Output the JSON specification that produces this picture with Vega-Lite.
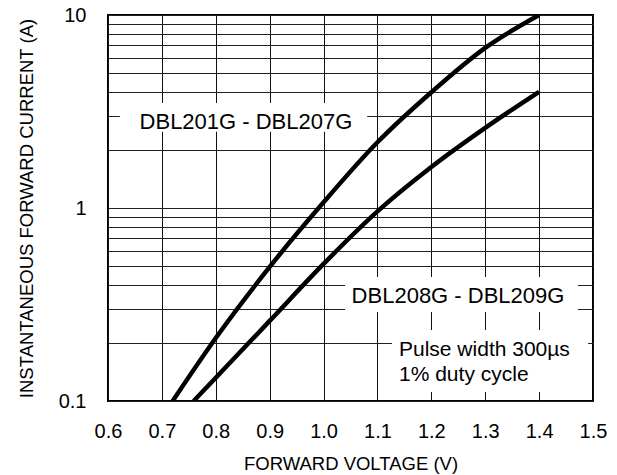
{
  "$schema": "https://vega.github.io/schema/vega-lite/v6.json",
  "width": 485,
  "height": 386,
  "autosize": "none",
  "padding": {"left": 108, "top": 15, "right": 24, "bottom": 74},
  "background": "white",
  "config": {
    "view": {"stroke": "black", "strokeWidth": 2},
    "font": "Liberation Sans",
    "axis": {"labelFont": "Liberation Sans", "titleFont": "Liberation Sans", "labelColor": "black", "titleColor": "black", "titleFontWeight": "normal"}
  },
  "datasets": {
    "curves": [
      {"series": "DBL201G - DBL207G", "v": 0.72, "i": 0.1},
      {"series": "DBL201G - DBL207G", "v": 0.8, "i": 0.212},
      {"series": "DBL201G - DBL207G", "v": 0.9, "i": 0.495},
      {"series": "DBL201G - DBL207G", "v": 1.0, "i": 1.07},
      {"series": "DBL201G - DBL207G", "v": 1.1, "i": 2.19},
      {"series": "DBL201G - DBL207G", "v": 1.2, "i": 3.98},
      {"series": "DBL201G - DBL207G", "v": 1.3, "i": 6.76},
      {"series": "DBL201G - DBL207G", "v": 1.4, "i": 10},
      {"series": "DBL208G - DBL209G", "v": 0.759, "i": 0.1},
      {"series": "DBL208G - DBL209G", "v": 0.8, "i": 0.132},
      {"series": "DBL208G - DBL209G", "v": 0.9, "i": 0.26},
      {"series": "DBL208G - DBL209G", "v": 1.0, "i": 0.513},
      {"series": "DBL208G - DBL209G", "v": 1.1, "i": 0.96},
      {"series": "DBL208G - DBL209G", "v": 1.2, "i": 1.63},
      {"series": "DBL208G - DBL209G", "v": 1.3, "i": 2.6},
      {"series": "DBL208G - DBL209G", "v": 1.4, "i": 4}
    ],
    "boxes": [
      {"x1": 0.622, "x2": 1.081, "y1": 2.48, "y2": 3.5},
      {"x1": 1.04, "x2": 1.472, "y1": 0.289, "y2": 0.439},
      {"x1": 1.127, "x2": 1.491, "y1": 0.1113, "y2": 0.233}
    ],
    "centered": [
      {"v": 0.856, "i": 2.79, "label": "DBL201G - DBL207G"},
      {"v": 1.2495, "i": 0.35, "label": "DBL208G - DBL209G"}
    ],
    "lefttext": [
      {"v": 1.14, "i": 0.184, "label": "Pulse width 300µs"},
      {"v": 1.14, "i": 0.1364, "label": "1% duty cycle"}
    ]
  },
  "layer": [
    {
      "data": {"name": "boxes"},
      "mark": {"type": "rect", "fill": "white", "stroke": null},
      "encoding": {
        "x": {"field": "x1", "type": "quantitative",
          "scale": {"domain": [0.6, 1.5], "nice": false, "zero": false},
          "axis": {
            "values": [0.6, 0.7, 0.8, 0.9, 1.0, 1.1, 1.2, 1.3, 1.4, 1.5],
            "format": ".1f",
            "grid": true, "gridColor": "#111", "gridWidth": 1, "gridOpacity": 1,
            "domain": false, "ticks": false, "tickSize": 0,
            "labelFontSize": 20, "labelPadding": 20, "labelFlush": false, "labelOverlap": false,
            "title": "FORWARD VOLTAGE (V)", "titleFontSize": 18.5, "titlePadding": 13
          }},
        "x2": {"field": "x2"},
        "y": {"field": "y1", "type": "quantitative",
          "scale": {"type": "log", "domain": [0.1, 10], "nice": false},
          "axis": {
            "values": [0.1, 0.2, 0.3, 0.4, 0.5, 0.6, 0.7, 0.8, 0.9, 1, 2, 3, 4, 5, 6, 7, 8, 9, 10],
            "format": "~g",
            "labelExpr": "(datum.value == 0.1 || datum.value == 1 || datum.value == 10) ? datum.label : ''",
            "grid": true, "gridColor": "#222", "gridWidth": 1, "gridOpacity": 1,
            "domain": false, "ticks": false, "tickSize": 0,
            "labelFontSize": 20, "labelPadding": 22, "labelFlush": false, "labelOverlap": false, "labelBound": false,
            "title": "INSTANTANEOUS FORWARD CURRENT (A)", "titleFontSize": 18.5, "titlePadding": 22
          }},
        "y2": {"field": "y2"}
      }
    },
    {
      "data": {"name": "centered"},
      "mark": {"type": "text", "fontSize": 22, "align": "center", "baseline": "middle", "color": "black", "font": "Liberation Sans"},
      "encoding": {
        "x": {"field": "v", "type": "quantitative"},
        "y": {"field": "i", "type": "quantitative"},
        "text": {"field": "label"}
      }
    },
    {
      "data": {"name": "lefttext"},
      "mark": {"type": "text", "fontSize": 21, "align": "left", "baseline": "middle", "color": "black", "font": "Liberation Sans"},
      "encoding": {
        "x": {"field": "v", "type": "quantitative"},
        "y": {"field": "i", "type": "quantitative"},
        "text": {"field": "label"}
      }
    },
    {
      "data": {"name": "curves"},
      "mark": {"type": "line", "interpolate": "monotone", "color": "black", "strokeWidth": 4.5, "clip": true},
      "encoding": {
        "x": {"field": "v", "type": "quantitative"},
        "y": {"field": "i", "type": "quantitative"},
        "detail": {"field": "series"}
      }
    }
  ]
}
